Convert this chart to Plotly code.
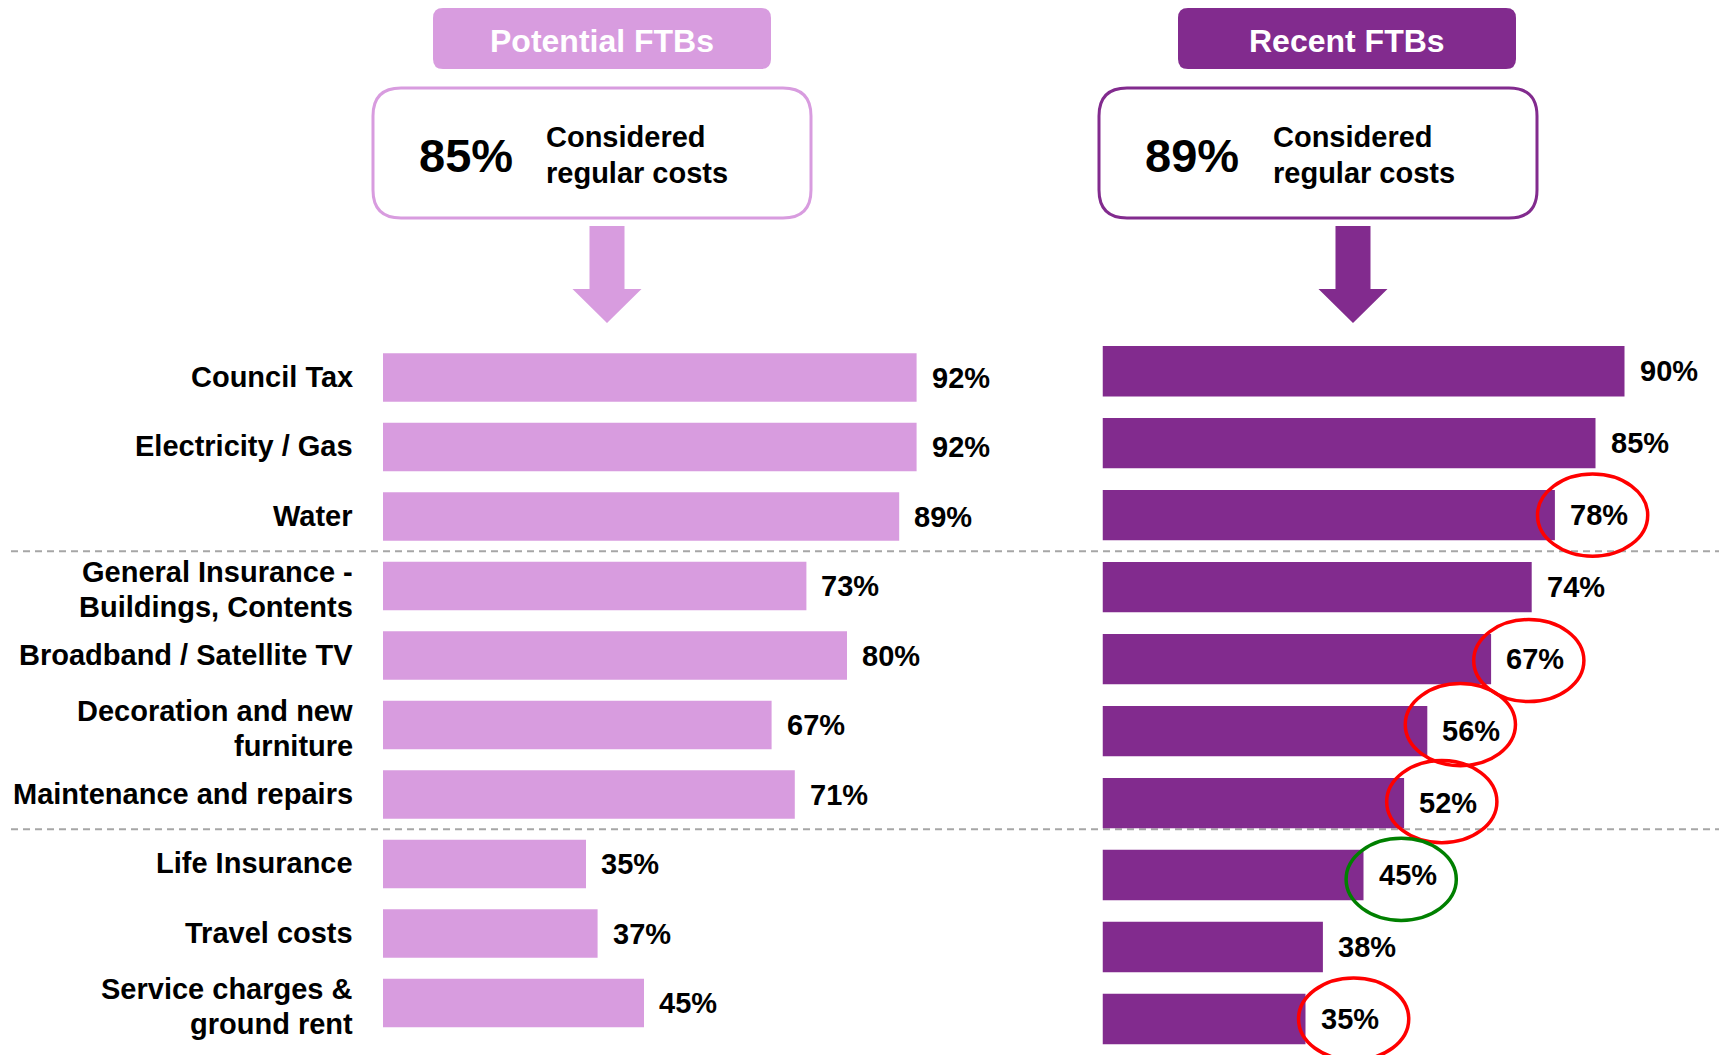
import plotly.graph_objects as go

# ---------------- data ----------------
categories = [
    "Council Tax",
    "Electricity / Gas",
    "Water",
    "General Insurance -<br>Buildings, Contents",
    "Broadband / Satellite TV",
    "Decoration and new<br>furniture",
    "Maintenance and repairs",
    "Life Insurance",
    "Travel costs",
    "Service charges &<br>ground rent",
]
potential_ftbs = [92, 92, 89, 73, 80, 67, 71, 35, 37, 45]
recent_ftbs = [90, 85, 78, 74, 67, 56, 52, 45, 38, 35]

panel_titles = ["Potential FTBs", "Recent FTBs"]
headline_values = ["85%", "89%"]
headline_lines = ["Considered", "regular costs"]

# highlighted values in the Recent FTBs panel (category index, colour)
highlight_index = [2, 4, 5, 6, 7, 9]
highlight_colors = ["#FF0000", "#FF0000", "#FF0000", "#FF0000", "#008000", "#FF0000"]

# dashed separators between category groups (between indices)
separators = [2.5, 6.5]

# ---------------- style ----------------
OFF = 8  # page body margin
W, H = 1727 - OFF, 1058 - OFF
LIGHT = "#D89CDF"
DARK = "#822B8E"
FONT = "Liberation Sans"
GREY = "#A6A6A6"
# ellipse centre offsets (x in %-units from bar end, y in category units)
ellipse_dx = [6.5, 6.5, 5.7, 6.5, 6.5, 8.3]
ellipse_dy = [0.0, 0.02, -0.09, -0.02, 0.06, 0.0]


def px(x):
    return (x - OFF) / W


def py(y):
    return 1 - (y - OFF) / H


def rounded_rect(x0, y0, x1, y1, r):
    pts = [
        ("M", (x0 + r, y0)),
        ("L", (x1 - r, y0)),
        ("Q", (x1, y0), (x1, y0 + r)),
        ("L", (x1, y1 - r)),
        ("Q", (x1, y1), (x1 - r, y1)),
        ("L", (x0 + r, y1)),
        ("Q", (x0, y1), (x0, y1 - r)),
        ("L", (x0, y0 + r)),
        ("Q", (x0, y0), (x0 + r, y0)),
    ]
    s = ""
    for p in pts:
        cmd = p[0]
        coords = " ".join(f"{px(a):.5f},{py(b):.5f}" for a, b in p[1:])
        s += f"{cmd} {coords} "
    return s + "Z"


def arrow(cx, top, shaft_bottom, tip, shaft_w, head_w):
    pts = [
        (cx - shaft_w / 2, top), (cx + shaft_w / 2, top),
        (cx + shaft_w / 2, shaft_bottom), (cx + head_w / 2, shaft_bottom),
        (cx, tip), (cx - head_w / 2, shaft_bottom),
        (cx - shaft_w / 2, shaft_bottom),
    ]
    return "M " + " L ".join(f"{px(a):.5f},{py(b):.5f}" for a, b in pts) + " Z"


n = len(categories)
idx = list(range(n))

fig = go.Figure()
fig.add_trace(go.Bar(
    x=potential_ftbs, y=idx, orientation="h", marker_color=LIGHT,
    marker_line_width=0, width=0.7, xaxis="x", yaxis="y", showlegend=False,
    name="Potential FTBs",
))
fig.add_trace(go.Bar(
    x=recent_ftbs, y=idx, orientation="h", marker_color=DARK,
    marker_line_width=0, width=0.7, xaxis="x2", yaxis="y2", showlegend=False,
    name="Recent FTBs",
))

label_font = dict(family=FONT, size=29, color="black", weight="bold")

annotations = []
# category labels (each line separately for tighter line spacing)
LINE_H = 35
for i, cat in enumerate(categories):
    lines = cat.split("<br>")
    m = len(lines)
    base = 1 if m == 1 else -3
    for k, ln in enumerate(lines):
        annotations.append(dict(x=px(355), y=i, xref="paper", yref="y",
                                text=ln, showarrow=False, xanchor="right",
                                yanchor="middle",
                                yshift=-(k - (m - 1) / 2) * LINE_H + base,
                                font=label_font))

for i, v in enumerate(potential_ftbs):
    annotations.append(dict(x=v, y=i, xref="x", yref="y", text=f"{v}%",
                            showarrow=False, xanchor="left", yanchor="middle",
                            xshift=13, font=label_font))
for i, v in enumerate(recent_ftbs):
    annotations.append(dict(x=v, y=i, xref="x2", yref="y2", text=f"{v}%",
                            showarrow=False, xanchor="left", yanchor="middle",
                            xshift=13, font=label_font))

shapes = []
header_specs = [
    dict(title_box=(433, 8, 771, 69), box=(373, 88, 811, 218), big_x=466,
         text_x=544, arrow_cx=607, color=LIGHT),
    dict(title_box=(1178, 8, 1516, 69), box=(1099, 88, 1537, 218), big_x=1192,
         text_x=1271, arrow_cx=1353, color=DARK),
]
for spec, title, big in zip(header_specs, panel_titles, headline_values):
    x0, y0, x1, y1 = spec["title_box"]
    shapes.append(dict(type="path", xref="paper", yref="paper",
                       path=rounded_rect(x0, y0, x1, y1, 10),
                       fillcolor=spec["color"], line=dict(width=0)))
    annotations.append(dict(x=px((x0 + x1) / 2), y=py((y0 + y1) / 2 + 2),
                            xref="paper", yref="paper", text=title,
                            showarrow=False, xanchor="center", yanchor="middle",
                            font=dict(family=FONT, size=32, color="white",
                                      weight="bold")))
    bx0, by0, bx1, by1 = spec["box"]
    shapes.append(dict(type="path", xref="paper", yref="paper",
                       path=rounded_rect(bx0, by0, bx1, by1, 28),
                       fillcolor="white", line=dict(color=spec["color"], width=3)))
    annotations.append(dict(x=px(spec["big_x"]), y=py(155), xref="paper",
                            yref="paper", text=big, showarrow=False,
                            xanchor="center", yanchor="middle",
                            font=dict(family=FONT, size=47, color="black",
                                      weight="bold")))
    for line_txt, ly in zip(headline_lines, [137.5, 172.5]):
        annotations.append(dict(x=px(spec["text_x"]), y=py(ly), xref="paper",
                                yref="paper", text=line_txt, showarrow=False,
                                xanchor="left", yanchor="middle", align="left",
                                font=dict(family=FONT, size=29, color="black",
                                          weight="bold")))
    shapes.append(dict(type="path", xref="paper", yref="paper",
                       path=arrow(spec["arrow_cx"], 226, 289, 323, 35, 69),
                       fillcolor=spec["color"], line=dict(width=0)))

# dashed separators
for s in separators:
    shapes.append(dict(type="line", xref="paper", yref="y", x0=px(11), x1=1,
                       y0=s, y1=s, line=dict(color=GREY, width=2, dash="7px,5px"),
                       layer="below"))

# highlight ellipses
for i, c, dx, dy in zip(highlight_index, highlight_colors, ellipse_dx, ellipse_dy):
    cx = recent_ftbs[i] + dx
    cy = i + dy
    shapes.append(dict(type="circle", xref="x2", yref="y2",
                       x0=cx - 9.5, x1=cx + 9.5, y0=cy - 0.57, y1=cy + 0.57,
                       line=dict(color=c, width=3.5), layer="above"))

left_dom = [py(1037.75), py(342.75)]
right_dom = [max(0, py(1055.0)), py(335.2)]

fig.update_layout(
    width=W, height=H, autosize=False,
    margin=dict(l=0, r=0, t=0, b=0),
    paper_bgcolor="white", plot_bgcolor="rgba(0,0,0,0)",
    bargap=0.3,
    xaxis=dict(domain=[px(383), px(963)], range=[0, 100], visible=False),
    yaxis=dict(domain=left_dom, range=[n - 0.5, -0.5], anchor="x",
               visible=False),
    xaxis2=dict(domain=[px(1102.5), px(1682.5)], range=[0, 100], visible=False,
                anchor="y2"),
    yaxis2=dict(domain=right_dom, range=[n - 0.5, -0.5], anchor="x2",
                visible=False),
    annotations=annotations,
    shapes=shapes,
)

fig.write_html("out.html")
